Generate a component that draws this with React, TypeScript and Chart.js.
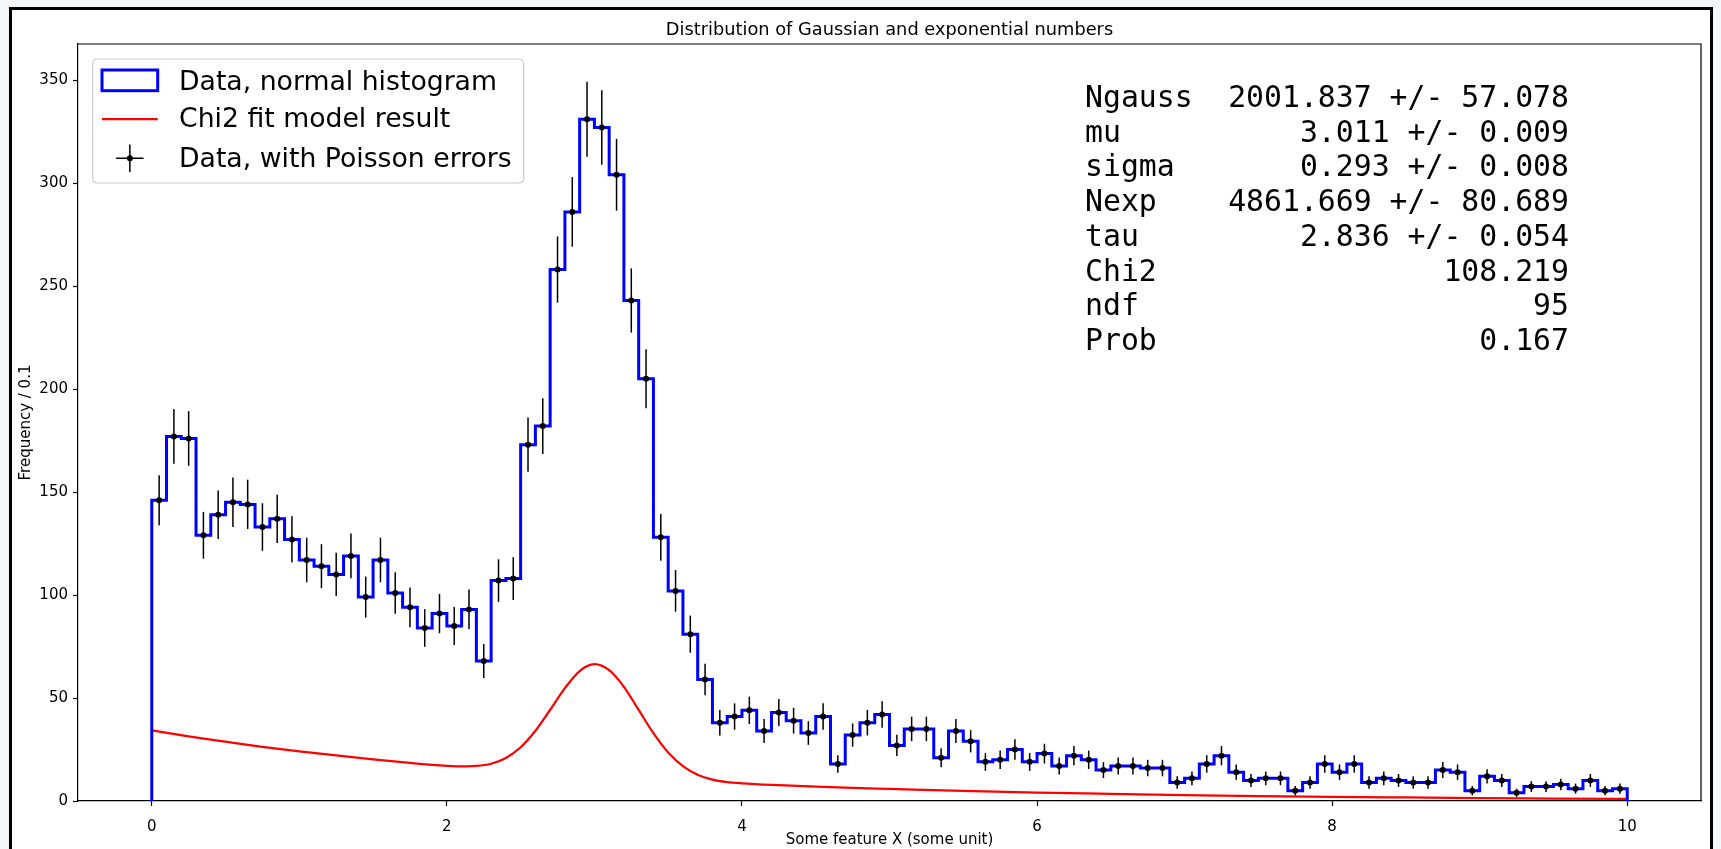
import React, { useEffect, useRef } from 'react';
import { Chart, registerables } from 'chart.js';

Chart.register(...registerables);

// ---------- data ----------
const binStart = 0;
const binWidth = 0.1;
const counts = [
  146, 177, 176, 129, 139, 145, 144, 133, 137, 127,
  117, 114, 110, 119, 99, 117, 101, 94, 84, 91,
  85, 93, 68, 107, 108, 173, 182, 258, 286, 331,
  327, 304, 243, 205, 128, 102, 81, 59, 38, 41,
  44, 34, 43, 39, 33, 41, 18, 32, 38, 42,
  27, 35, 35, 21, 34, 29, 19, 20, 25, 19,
  23, 17, 22, 20, 15, 17, 17, 16, 16, 9,
  11, 18, 22, 14, 10, 11, 11, 5, 9, 18,
  14, 18, 9, 11, 10, 9, 9, 15, 14, 5,
  12, 10, 4, 7, 7, 8, 6, 10, 5, 6,
];

const fitX = [0, 0.25, 0.5, 0.75, 1, 1.25, 1.5, 1.75, 2, 2.1, 2.2, 2.3, 2.4, 2.5, 2.6, 2.7, 2.8, 2.9, 3, 3.1, 3.2, 3.3, 3.4, 3.5, 3.6, 3.7, 3.8, 3.9, 4, 4.25, 4.5, 4.75, 5, 5.5, 6, 6.5, 7, 7.5, 8, 8.5, 9, 9.5, 10];
const fitY = [34.3, 31.4, 28.8, 26.3, 24.1, 22.1, 20.2, 18.5, 17.1, 16.8, 17.0, 18.1, 20.9, 26.1, 34.1, 44.3, 54.8, 63.1, 66.4, 63.5, 55.4, 44.2, 32.9, 23.5, 16.9, 12.7, 10.4, 9.2, 8.6, 7.7, 7.0, 6.4, 5.9, 4.9, 4.1, 3.5, 2.9, 2.4, 2.0, 1.7, 1.4, 1.2, 1.0];

const xTicks = [0, 2, 4, 6, 8, 10];
const yTicks = [0, 50, 100, 150, 200, 250, 300, 350];

const fitNames = ['Ngauss', 'mu', 'sigma', 'Nexp', 'tau', 'Chi2', 'ndf', 'Prob'];
const fitValues = [
  '2001.837 +/- 57.078',
  '3.011 +/- 0.009',
  '0.293 +/- 0.008',
  '4861.669 +/- 80.689',
  '2.836 +/- 0.054',
  '108.219',
  '95',
  '0.167',
];

const titleText = 'Distribution of Gaussian and exponential numbers';
const xLabel = 'Some feature X (some unit)';
const yLabel = 'Frequency / 0.1';
const legendLabels = ['Data, normal histogram', 'Chi2 fit model result', 'Data, with Poisson errors'];

// ---------- derived chart data ----------
const histPoints: { x: number; y: number }[] = [{ x: binStart, y: 0 }];
counts.forEach((c, i) => histPoints.push({ x: binStart + i * binWidth, y: c }));
histPoints.push({ x: binStart + counts.length * binWidth, y: 0 });

const dotPoints = counts.map((c, i) => ({ x: binStart + (i + 0.5) * binWidth, y: c }));
const fitPoints = fitX.map((x, i) => ({ x, y: fitY[i] }));

const SANS = "'DejaVu Sans', sans-serif";
const MONO = "'DejaVu Sans Mono', monospace";

const errorBarPlugin = {
  id: 'errorBars',
  afterDatasetDraw(chart: any, args: any) {
    if (args.index !== 1) return;
    const { ctx, chartArea, scales } = chart;
    const x = scales.x;
    const y = scales.y;
    ctx.save();
    ctx.beginPath();
    ctx.rect(chartArea.left, chartArea.top, chartArea.right - chartArea.left, chartArea.bottom - chartArea.top);
    ctx.clip();
    ctx.strokeStyle = '#000';
    ctx.lineWidth = 1.5;
    dotPoints.forEach((p) => {
      const err = Math.sqrt(p.y);
      const px = x.getPixelForValue(p.x);
      ctx.beginPath();
      ctx.moveTo(px, y.getPixelForValue(p.y - err));
      ctx.lineTo(px, y.getPixelForValue(p.y + err));
      ctx.stroke();
    });
    ctx.restore();
  },
};

const framePlugin = {
  id: 'frameAndAnnotations',
  afterDraw(chart: any) {
    const { ctx, chartArea } = chart;
    const L = chartArea.left;
    const T = chartArea.top;
    ctx.save();
    // title
    ctx.fillStyle = '#000';
    ctx.font = `17.8px ${SANS}`;
    ctx.textAlign = 'center';
    ctx.textBaseline = 'middle';
    ctx.fillText(titleText, (chartArea.left + chartArea.right) / 2, T - 13.5);

    // axes frame (top & right spines)
    ctx.strokeStyle = '#000';
    ctx.lineWidth = 1.2;
    ctx.beginPath();
    ctx.moveTo(L, T);
    ctx.lineTo(chartArea.right, T);
    ctx.lineTo(chartArea.right, chartArea.bottom);
    ctx.stroke();

    // legend box
    const bx = L + 14.7, by = T + 15, bw = 431, bh = 124, r = 5;
    ctx.beginPath();
    ctx.moveTo(bx + r, by);
    ctx.lineTo(bx + bw - r, by);
    ctx.quadraticCurveTo(bx + bw, by, bx + bw, by + r);
    ctx.lineTo(bx + bw, by + bh - r);
    ctx.quadraticCurveTo(bx + bw, by + bh, bx + bw - r, by + bh);
    ctx.lineTo(bx + r, by + bh);
    ctx.quadraticCurveTo(bx, by + bh, bx, by + bh - r);
    ctx.lineTo(bx, by + r);
    ctx.quadraticCurveTo(bx, by, bx + r, by);
    ctx.closePath();
    ctx.fillStyle = 'rgba(255,255,255,0.8)';
    ctx.fill();
    ctx.strokeStyle = '#cccccc';
    ctx.lineWidth = 1.2;
    ctx.stroke();

    const hx0 = L + 24, hx1 = L + 79.7;
    // handle 1: blue rectangle outline
    ctx.strokeStyle = 'blue';
    ctx.lineWidth = 3;
    ctx.strokeRect(hx0, T + 26, hx1 - hx0, 20.7);
    // handle 2: red line
    ctx.strokeStyle = 'red';
    ctx.lineWidth = 2.25;
    ctx.beginPath();
    ctx.moveTo(hx0, T + 75);
    ctx.lineTo(hx1, T + 75);
    ctx.stroke();
    // handle 3: error bar marker
    const cx = (hx0 + hx1) / 2, cy = T + 114.3;
    ctx.strokeStyle = '#000';
    ctx.lineWidth = 1.5;
    ctx.beginPath();
    ctx.moveTo(cx - 13.7, cy);
    ctx.lineTo(cx + 13.7, cy);
    ctx.moveTo(cx, cy - 13.7);
    ctx.lineTo(cx, cy + 13.7);
    ctx.stroke();
    ctx.fillStyle = '#000';
    ctx.beginPath();
    ctx.arc(cx, cy, 3, 0, Math.PI * 2);
    ctx.fill();

    ctx.fillStyle = '#000';
    ctx.font = `26.7px ${SANS}`;
    ctx.textAlign = 'left';
    ctx.textBaseline = 'alphabetic';
    const baselines = [T + 45.5, T + 83, T + 122.5];
    legendLabels.forEach((t, i) => ctx.fillText(t, L + 101, baselines[i]));

    // fit result text box
    ctx.font = `29.8px ${MONO}`;
    const tx0 = L + 1007, tx1 = L + 1491;
    fitNames.forEach((n, i) => {
      const yb = T + 63 + i * 34.7;
      ctx.textAlign = 'left';
      ctx.fillText(n, tx0, yb);
      ctx.textAlign = 'right';
      ctx.fillText(fitValues[i], tx1, yb);
    });
    ctx.restore();
  },
};

export default function App() {
  const ref = useRef<HTMLCanvasElement>(null);
  useEffect(() => {
    document.body.style.margin = '0';
    const canvas = ref.current;
    if (!canvas) return;
    const chart = new Chart(canvas, {
      type: 'line',
      data: {
        datasets: [
          {
            label: legendLabels[2],
            data: dotPoints,
            showLine: false,
            pointRadius: 3,
            pointBackgroundColor: '#000',
            pointBorderWidth: 0,
            borderColor: '#000',
          },
          {
            label: legendLabels[0],
            data: histPoints,
            stepped: 'before',
            borderColor: 'blue',
            borderWidth: 3,
            pointRadius: 0,
            fill: false,
          },
          {
            label: legendLabels[1],
            data: fitPoints,
            borderColor: 'red',
            borderWidth: 2.25,
            pointRadius: 0,
            cubicInterpolationMode: 'monotone',
            fill: false,
          },
        ],
      } as any,
      options: {
        responsive: false,
        animation: false,
        devicePixelRatio: 1,
        layout: { padding: { left: 0, right: 20, top: 44, bottom: 0 } },
        plugins: {
          legend: { display: false },
          tooltip: { enabled: false },
          title: { display: false },
        },
        scales: {
          x: {
            type: 'linear',
            min: -0.5,
            max: 10.5,
            afterBuildTicks: (s: any) => {
              s.ticks = xTicks.map((v) => ({ value: v }));
            },
            afterFit: (s: any) => {
              s.height = 48;
            },
            grid: { drawOnChartArea: false, drawTicks: true, tickLength: 5, tickWidth: 1.2, tickColor: '#000' },
            border: { display: true, color: '#000', width: 1.2 },
            ticks: { color: '#000', font: { family: SANS, size: 15 }, padding: 12, maxRotation: 0, autoSkip: false },
            title: { display: true, text: xLabel, color: '#000', font: { family: SANS, size: 15 }, padding: { top: 0, bottom: 0 } },
          },
          y: {
            type: 'linear',
            min: 0,
            max: 367.5,
            afterBuildTicks: (s: any) => {
              s.ticks = yTicks.map((v) => ({ value: v }));
            },
            afterFit: (s: any) => {
              s.width = 78;
            },
            grid: { drawOnChartArea: false, drawTicks: true, tickLength: 5, tickWidth: 1.2, tickColor: '#000' },
            border: { display: true, color: '#000', width: 1.2 },
            ticks: { color: '#000', font: { family: SANS, size: 15 }, padding: 5, autoSkip: false },
            title: { display: true, text: yLabel, color: '#000', font: { family: SANS, size: 15 }, padding: { top: 17, bottom: 0 } },
          },
        },
      } as any,
      plugins: [errorBarPlugin, framePlugin],
    });
    return () => chart.destroy();
  }, []);

  return (
    <div style={{ position: 'relative', width: 1721, height: 849, overflow: 'hidden', background: '#f4f6f9' }}>
      <div
        style={{
          position: 'absolute',
          left: 9,
          top: 7,
          width: 1704,
          height: 900,
          border: '3px solid #000',
          background: '#fff',
          boxSizing: 'border-box',
        }}
      />
      <canvas ref={ref} width={1721} height={849} style={{ position: 'absolute', left: 0, top: 0, width: 1721, height: 849 }} />
    </div>
  );
}
